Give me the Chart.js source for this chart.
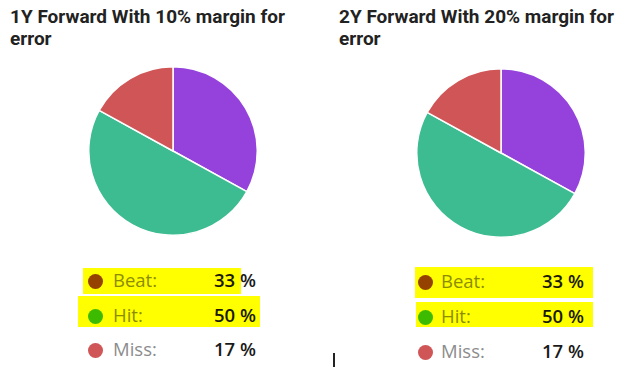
<!DOCTYPE html>
<html>
<head>
<meta charset="utf-8">
<script src="https://cdn.jsdelivr.net/npm/chart.js@4"></script>
<style>
  html, body { margin: 0; padding: 0; background: #fff; }
  body { width: 640px; height: 378px; position: relative; overflow: hidden; }
  .title { position: absolute; font-family: Roboto, sans-serif; font-weight: bold; font-size: 19px; line-height: 22px; color: #222; width: 290px; }
  .pie { position: absolute; }
  .dot { position: absolute; width: 15px; height: 15px; border-radius: 50%; }
  .lbl { position: absolute; font-family: "Open Sans", sans-serif; font-size: 18.5px; color: #8c8c8c; white-space: nowrap; }
  .num { position: absolute; font-family: "Open Sans", sans-serif; font-size: 18.5px; font-weight: 600; color: #1a1a1a; text-align: right; white-space: nowrap; }
  .hl { position: absolute; background: #ffff00; mix-blend-mode: multiply; }
</style>
</head>
<body>
<script>
const pie_labels = ["Beat", "Hit", "Miss"];
const pie_colors = ["#9542dc", "#3dbb91", "#d05556"];
const forward_1y_values = [33, 50, 17];
const forward_2y_values = [33, 50, 17];
const chart_titles = ["1Y Forward With 10% margin for error", "2Y Forward With 20% margin for error"];

// layout of each panel
const panels = [
    { values: forward_1y_values, title: chart_titles[0], titleX: 10, pieX: 88, pieY: 66, dotX: 95, rowsY: [281, 316, 350], lblX: 113, numRight: 256,
      highlights: [[83, 268, 158, 26], [78, 296, 182, 31]] },
    { values: forward_2y_values, title: chart_titles[1], titleX: 339, pieX: 416, pieY: 68, dotX: 425, rowsY: [282, 317, 352], lblX: 441, numRight: 584,
      highlights: [[415, 267, 178, 31], [416, 302, 177, 25]] }
];

function addEl(cls, css, text)
{
    const el = document.createElement("div");
    el.className = cls;
    Object.assign(el.style, css);
    if (text !== undefined) el.textContent = text;
    document.body.appendChild(el);
    return el;
}

panels.forEach(function (p, i)
{
    addEl("title", { left: p.titleX + "px", top: "6px" }, p.title);

    const canvas = document.createElement("canvas");
    canvas.className = "pie";
    canvas.style.left = p.pieX + "px";
    canvas.style.top = p.pieY + "px";
    canvas.style.width = "170px";
    canvas.style.height = "170px";
    canvas.width = 170;
    canvas.height = 170;
    document.body.appendChild(canvas);

    new Chart(canvas,
    {
        type: "pie",
        data:
        {
            labels: pie_labels,
            datasets:
            [
                {
                    data: p.values,
                    backgroundColor: pie_colors,
                    borderColor: "#ffffff",
                    borderWidth: 1.5
                }
            ]
        },
        options:
        {
            responsive: false,
            animation: false,
            layout: { padding: 0 },
            plugins:
            {
                legend: { display: false },
                tooltip: { enabled: false }
            }
        }
    });

    pie_labels.forEach(function (label, k)
    {
        const y = p.rowsY[k];
        addEl("dot", { left: (p.dotX - 7.5) + "px", top: (y - 7.5) + "px", background: pie_colors[k] });
        addEl("lbl", { left: p.lblX + "px", top: (y - 14) + "px" }, label + ":");
        addEl("num", { left: (p.numRight - 80) + "px", width: "80px", top: (y - 14) + "px" }, p.values[k] + " %");
    });

    // yellow marker strokes over the first two rows
    p.highlights.forEach(function (h)
    {
        addEl("hl", { left: h[0] + "px", top: h[1] + "px", width: h[2] + "px", height: h[3] + "px" });
    });
});

// small stray cursor mark between the panels
addEl("", { position: "absolute", left: "333px", top: "353px", width: "2px", height: "14px", background: "#222" });
</script>
</body>
</html>
